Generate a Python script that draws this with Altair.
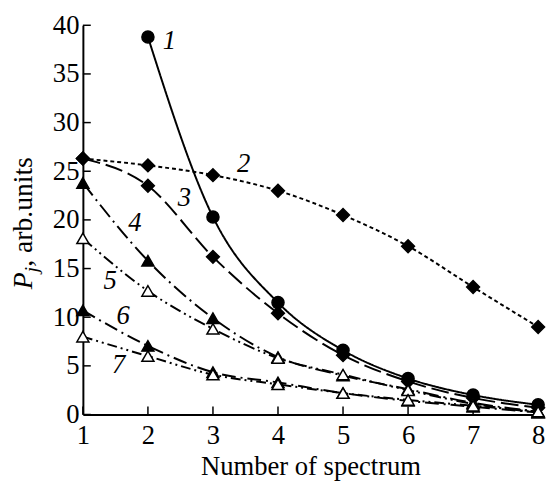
import altair as alt
import pandas as pd

spectrum = [1, 2, 3, 4, 5, 6, 7, 8]
p1 = [None, 38.8, 20.3, 11.5, 6.6, 3.7, 2.0, 1.0]
p2 = [26.3, 25.6, 24.6, 23.0, 20.5, 17.3, 13.1, 9.0]
p3 = [26.3, 23.5, 16.2, 10.4, 6.1, 3.4, 1.7, 0.7]
p4 = [23.8, 15.8, 9.9, 5.9, 4.0, 2.6, 1.2, 0.3]
p5 = [18.1, 12.7, 8.8, 5.8, 4.1, 2.5, 1.1, 0.2]
p6 = [10.7, 7.05, 4.35, 3.3, 2.2, 1.4, 0.8, 0.2]
p7 = [8.0, 6.0, 4.1, 3.1, 2.2, 1.5, 0.9, 0.3]

series_names = ["1", "2", "3", "4", "5", "6", "7"]
series_values = [p1, p2, p3, p4, p5, p6, p7]
series_dash = [[1, 0], [4, 3], [18, 6], [16, 5, 2, 5], [12, 4, 2, 4, 2, 4], [14, 5, 2, 5], [10, 4, 2, 4, 2, 4]]
series_shape = ["circle", "diamond", "diamond", "triangle-up", "triangle-up", "triangle-up", "triangle-up"]
series_fill = ["black", "black", "black", "black", "white", "black", "white"]
series_size = [150, 170, 170, 150, 150, 150, 150]

label_x = [2.33, 3.47, 2.56, 1.80, 1.42, 1.62, 1.55]
label_y = [38.4, 25.7, 22.2, 19.7, 13.7, 10.1, 5.1]

y_ticks = [0, 5, 10, 15, 20, 25, 30, 35, 40]
x_ticks = [1, 2, 3, 4, 5, 6, 7, 8]

FONT = "Liberation Serif"
W, H = 462, 395

xs = alt.Scale(domain=[1, 8], nice=False)
ys = alt.Scale(domain=[0, 40], nice=False)

y_axis = alt.Axis(values=y_ticks, ticks=False, domain=True, domainColor="black", domainWidth=2,
                  labelFont=FONT, labelFontSize=27, labelColor="black", labelPadding=4,
                  title=None, grid=False)
x_axis = alt.Axis(values=x_ticks, ticks=False, domain=True, domainColor="black", domainWidth=2,
                  labelFont=FONT, labelFontSize=27, labelColor="black", labelPadding=8,
                  title="Number of spectrum", titleFont=FONT, titleFontSize=27,
                  titleFontWeight="normal", titleColor="black", titlePadding=6, grid=False,
                  labelFlush=False)


def X(field="x"):
    return alt.X(f"{field}:Q", scale=xs, axis=x_axis)


def Y(field="y"):
    return alt.Y(f"{field}:Q", scale=ys, axis=y_axis)


layers = []
for name, vals, dash in zip(series_names, series_values, series_dash):
    df = pd.DataFrame([{"x": x, "y": v} for x, v in zip(spectrum, vals) if v is not None])
    layers.append(
        alt.Chart(df).mark_line(color="black", strokeWidth=2, strokeDash=dash, interpolate="monotone")
        .encode(x=X(), y=Y())
    )
for name, vals, shape, fill, size in zip(series_names, series_values, series_shape, series_fill, series_size):
    df = pd.DataFrame([{"x": x, "y": v} for x, v in zip(spectrum, vals) if v is not None])
    layers.append(
        alt.Chart(df).mark_point(shape=shape, filled=True, fill=fill, stroke="black", strokeWidth=1.5,
                                 size=size, opacity=1)
        .encode(x=X(), y=Y())
    )

lab_df = pd.DataFrame({"x": label_x, "y": label_y, "t": series_names})
layers.append(
    alt.Chart(lab_df).mark_text(font=FONT, fontSize=27, fontStyle="italic", color="black",
                                align="center", baseline="middle")
    .encode(x=X(), y=Y(), text="t:N")
)

# inward tick marks
ticks_y = alt.Chart(pd.DataFrame({"y": y_ticks})).mark_rule(color="black", strokeWidth=1.5).encode(
    y=Y(), x=alt.value(0), x2=alt.value(8),
)
ticks_x = alt.Chart(pd.DataFrame({"x": x_ticks})).mark_rule(color="black", strokeWidth=1.5).encode(
    x=X(), y=alt.value(H), y2=alt.value(H - 8),
)

# y title pieces: P (italic), j (italic subscript), ", arb.units"
t_p = alt.Chart(pd.DataFrame({"t": ["P"]})).mark_text(font=FONT, fontSize=28, fontStyle="italic", color="black",
                                                      angle=270, align="left", baseline="alphabetic").encode(
    text="t:N", x=alt.value(-52), y=alt.value(268))
t_j = alt.Chart(pd.DataFrame({"t": ["j"]})).mark_text(font=FONT, fontSize=20, fontStyle="italic", color="black",
                                                      angle=270, align="left", baseline="alphabetic").encode(
    text="t:N", x=alt.value(-46), y=alt.value(251))
t_r = alt.Chart(pd.DataFrame({"t": [", arb.units"]})).mark_text(font=FONT, fontSize=28, color="black", angle=270,
                                                               align="left", baseline="alphabetic").encode(
    text="t:N", x=alt.value(-52), y=alt.value(245))

chart = alt.layer(ticks_y, ticks_x, *layers, t_p, t_j, t_r).properties(
    width=W, height=H, autosize=alt.AutoSizeParams(type="none"),
    padding={"left": 76, "top": 14, "right": 9, "bottom": 68},
).configure_view(stroke=None)

chart.save("out.html", embed_options={"renderer": "svg", "actions": False})
